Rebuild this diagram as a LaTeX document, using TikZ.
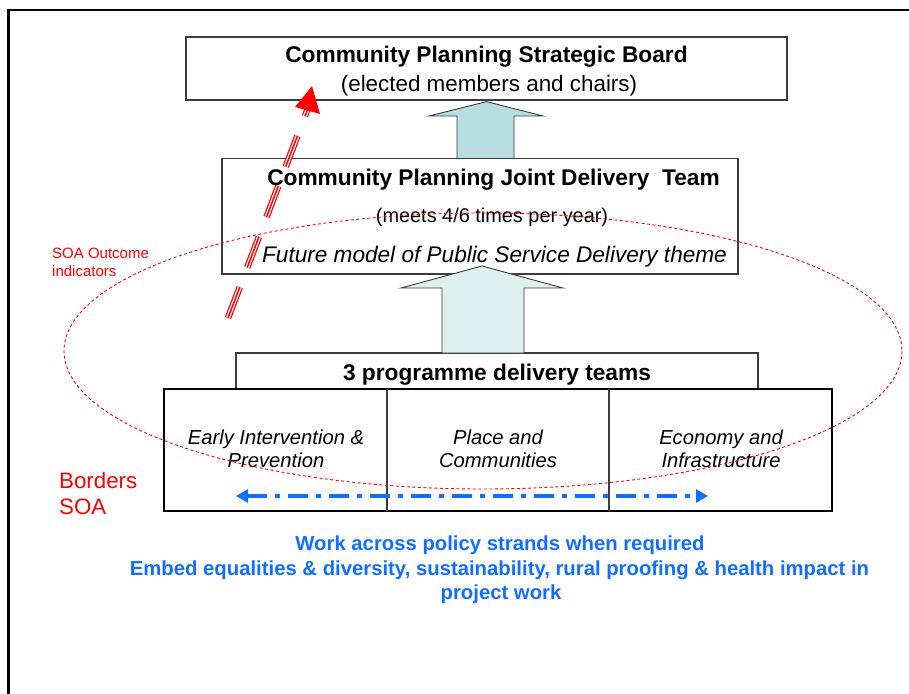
\documentclass[tikz,border=0pt]{standalone}
\usepackage{fontspec}
\setmainfont{Liberation Sans}
\usetikzlibrary{arrows.meta,calc}
\definecolor{sblue}{RGB}{17,110,255}
\definecolor{arrA}{RGB}{183,221,224}
\definecolor{arrB}{RGB}{221,239,239}
\definecolor{edge}{RGB}{60,60,60}
\begin{document}
\begin{tikzpicture}[x=1pt,y=-1pt,
  box/.style={draw=edge, line width=1.2pt, fill=white, rectangle, inner sep=0pt},
  bigbox/.style={draw=black, line width=2.8pt, rectangle, inner sep=0pt},
  txt/.style={anchor=base, inner sep=0pt},
  bt/.style={txt, font=\fontsize{22.7}{26}\selectfont\bfseries},
  rt/.style={txt, font=\fontsize{22.4}{26}\selectfont},
  it/.style={txt, font=\fontsize{22.6}{26}\selectfont\itshape},
  ct/.style={txt, font=\fontsize{20.2}{24}\selectfont\itshape},
  blt/.style={txt, font=\fontsize{20.3}{24}\selectfont\bfseries, text=sblue},
  blockarrow/.style={draw=edge, line width=0.9pt},
  stripe/.style={dash pattern=on 33pt off 21pt, line cap=butt}
]
\useasboundingbox (0,0) rectangle (909,693);
% outer frame
\draw[line width=2.8pt] (8.7,700) -- (8.7,10) -- (920,10);

% boxes
\node[box, minimum width=601, minimum height=63] (board) at (486.5,68.5) {};
\node[box, minimum width=516, minimum height=115.5] (jdt) at (480,216.25) {};
\node[box, minimum width=522, minimum height=36] (prog) at (497,371) {};
\node[bigbox, minimum width=668, minimum height=122] (big) at (498,450) {};
\draw[edge, line width=1.2pt] (387,389) coordinate (d1t) -- (387,511) coordinate (d1b);
\draw[edge, line width=1.2pt] (609,389) coordinate (d2t) -- (609,511) coordinate (d2b);

% block arrows
\draw[blockarrow, fill=arrA] (457,158.5) -- (457,116) -- (429,116) -- ($(board.south)+(0,1)$) -- (543,116) -- (514,116) -- (514,158.5) -- cycle;
\draw[blockarrow, fill=arrB] (442,353) -- (442,288) -- (401,288) -- (482,266) -- (563,288) -- (524,288) -- (524,353) -- cycle;

% texts
\node[bt] (t1) at (486.5,63) {Community Planning Strategic Board};
\node[rt] (t2) at (489,91) {(elected members and chairs)};
\node[bt] (t3) at (493.5,185) {Community Planning Joint Delivery \ Team};
\node[txt, font=\fontsize{19.9}{23}\selectfont] (t4) at (492,222) {(meets 4/6 times per year)};
\node[it] (t5) at (494.5,262) {Future model of Public Service Delivery theme};
\node[bt] (t6) at (497,380) {3 programme delivery teams};
\node[ct] (c1a) at (276,444) {Early Intervention \&};
\node[ct] (c1b) at (276,467) {Prevention};
\node[ct] (c2a) at (498,444) {Place and};
\node[ct] (c2b) at (498,467) {Communities};
\node[ct] (c3a) at (721,444) {Economy and};
\node[ct] (c3b) at (721,467) {Infrastructure};

\node[blt] (b1) at (500,550) {Work across policy strands when required};
\node[blt] (b2) at (499.5,575) {Embed equalities \& diversity, sustainability, rural proofing \& health impact in};
\node[blt] (b3) at (501,599) {project work};

\node[txt, anchor=base west, font=\fontsize{15}{17}\selectfont, text=red] (s1) at (52,258) {SOA Outcome};
\node[txt, anchor=base west, font=\fontsize{15}{17}\selectfont, text=red] (s2) at (52,276) {indicators};
\node[txt, anchor=base west, font=\fontsize{22.3}{26}\selectfont, text=red] (bs1) at (59,488) {Borders};
\node[txt, anchor=base west, font=\fontsize{22.3}{26}\selectfont, text=red] (bs2) at (59,514) {SOA};

% blue dash-dot double arrow
\coordinate (dl) at (236,496);
\coordinate (dr) at (708,496);
\draw[sblue, line width=4pt, dash pattern=on 20pt off 8pt on 5pt off 8pt,
  {Triangle[length=12pt,width=13pt]}-{Triangle[length=12pt,width=13pt]}] (dl) -- (dr);

% red dashed ellipse
\coordinate (ec) at (483,351);
\draw[red, line width=0.9pt, dash pattern=on 3pt off 2.5pt] (ec) ellipse [x radius=419, y radius=138];

% red striped arrow
\coordinate (rs) at (228,318);
\coordinate (re) at (307.5,109.5);
\coordinate (rtip) at (312,86);
\draw[red, line width=6.5pt, stripe] (rs) -- (re);
\draw[white, line width=4pt, stripe] (rs) -- (re);
\draw[red, line width=1.5pt, stripe] (rs) -- (re);
\fill[red] (rtip) -- (295,107) -- (320,114) -- cycle;
\end{tikzpicture}
\end{document}
